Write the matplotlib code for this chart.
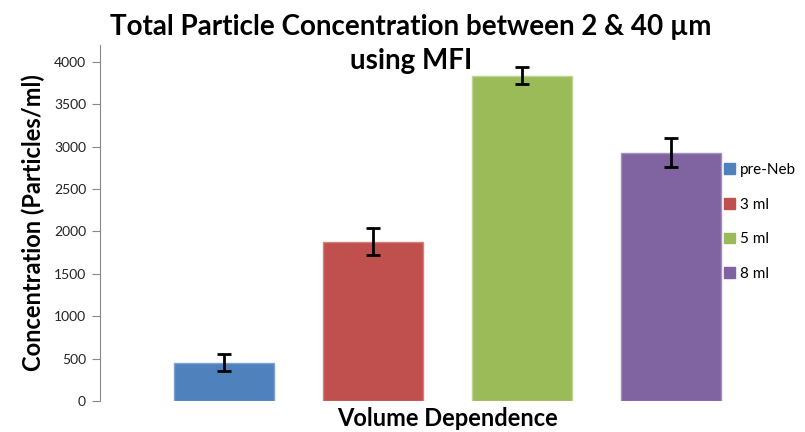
import matplotlib
matplotlib.use("Agg")
import matplotlib.pyplot as plt
from matplotlib.patches import Patch

plt.rcParams.update({"font.family": ["Lato", "DejaVu Sans"]})

groups = ["pre-Neb", "3 ml", "5 ml", "8 ml"]
conc = [450, 1880, 3835, 2930]
err = [100, 160, 100, 170]
colors = ["#4F81BD", "#C0504D", "#9BBB59", "#8064A2"]
edges = ["#7FA3D1", "#D4807D", "#BBD48F", "#A48FC0"]
yticks = [0, 500, 1000, 1500, 2000, 2500, 3000, 3500, 4000]

W, H = 805, 432
fig = plt.figure(figsize=(W / 100, H / 100), dpi=100)
ax = fig.add_axes([100 / W, 1 - 401 / H, 695 / W, 356 / H])

x = list(range(len(groups)))
ax.bar(x, conc, width=0.67, color=colors, edgecolor=edges, linewidth=1)
ax.errorbar(x, conc, yerr=err, fmt="none", ecolor="black", elinewidth=2,
            capsize=5, capthick=2)

ax.set_xlim(-0.83, 3.83)
ax.set_ylim(0, 4200)
ax.set_yticks(yticks)
ax.set_yticklabels([str(v) for v in yticks], fontsize=10, color="#222222")
ax.set_xticks([])
for s in ["top", "right", "bottom"]:
    ax.spines[s].set_visible(False)
ax.spines["left"].set_color("#888888")
ax.tick_params(axis="y", direction="out", length=6, color="#888888", pad=4)

ax.set_ylabel("Concentration (Particles/ml)", fontsize=17, fontweight="bold", labelpad=6)
ax.set_xlabel("Volume Dependence", fontsize=17, fontweight="bold", labelpad=4)

fig.text(411 / W, 1 - 27 / H, "Total Particle Concentration between 2 & 40 µm",
         ha="center", va="center", fontsize=20, fontweight="bold")
fig.text(411 / W, 1 - 61 / H, "using MFI",
         ha="center", va="center", fontsize=20, fontweight="bold")

handles = [Patch(facecolor=c, edgecolor=c) for c in colors]
fig.legend(handles, groups, loc="upper left", bbox_to_anchor=(718 / W, 1 - 157 / H),
           frameon=False, fontsize=11, handlelength=0.7, handleheight=0.7,
           handletextpad=0.35, labelspacing=1.35, borderaxespad=0)

fig.savefig("out.png", dpi=100)
